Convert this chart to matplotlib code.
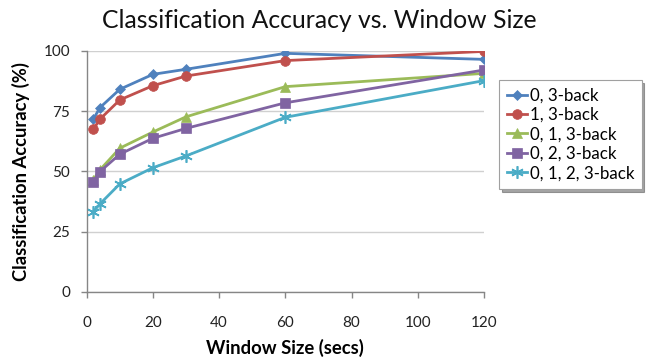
import numpy as np
import matplotlib
matplotlib.use("Agg")
import matplotlib.pyplot as plt

# -----------------------------------------------------------
# DATA
# -----------------------------------------------------------
window_secs = [2, 4, 10, 20, 30, 60, 120]

acc_0 = [71.6, 76.4, 84.0, 90.2, 92.3, 98.9, 96.4]
acc_1 = [67.4, 71.6, 79.6, 85.5, 89.5, 95.9, 99.7]
acc_01 = [46.5, 50.6, 59.6, 66.3, 72.6, 85.1, 90.6]
acc_02 = [45.6, 49.9, 57.1, 63.7, 67.8, 78.4, 92.0]
acc_012 = [33.3, 36.5, 44.8, 51.5, 56.4, 72.4, 87.6]

series_labels = ["0, 3-back", "1, 3-back", "0, 1, 3-back", "0, 2, 3-back", "0, 1, 2, 3-back"]
x_ticks = [0, 20, 40, 60, 80, 100, 120]
y_ticks = [0, 25, 50, 75, 100]

# -----------------------------------------------------------
# STYLE
# -----------------------------------------------------------
plt.rcParams['font.family'] = ['Lato', 'DejaVu Sans']
colors = ["#4F81BD", "#C0504D", "#9BBB59", "#8064A2", "#4BACC6"]
markers = ["D", "o", "^", "s", (6, 2, 0)]
msizes = [5.5, 7, 6.5, 7, 9]

fig = plt.figure(figsize=(6.46, 3.6), dpi=100)
ax = fig.add_axes([0.1342, 0.1889, 0.6150, 0.6703])

all_series = [acc_0, acc_1, acc_01, acc_02, acc_012]
for vals, lab, c, m, ms in zip(all_series, series_labels, colors, markers, msizes):
    ax.plot(window_secs, vals, color=c, marker=m, markersize=ms, linewidth=2,
            markeredgewidth=1.2 if m == (6, 2, 0) else 0.5, markeredgecolor=c,
            label=lab, zorder=3)

ax.set_xlim(0, 120)
ax.set_ylim(0, 100)
ax.set_xticks(x_ticks)
ax.set_yticks(y_ticks)
ax.tick_params(axis='both', labelsize=11, colors="#222222", length=4, width=1)
ax.tick_params(axis='both', color="#868686")
ax.tick_params(axis='x', pad=13)
ax.tick_params(axis='y', pad=8)
ax.grid(axis='y', color="#d0d0d0", linewidth=1)
ax.set_axisbelow(True)
for side in ["top", "right"]:
    ax.spines[side].set_visible(False)
for side in ["left", "bottom"]:
    ax.spines[side].set_color("#868686")
    ax.spines[side].set_linewidth(1)

ax.set_xlabel("Window Size (secs)", fontsize=13.3, fontweight="bold", labelpad=7)
ax.set_ylabel("Classification Accuracy (%)", fontsize=13.2, fontweight="bold", labelpad=10)

fig.text(0.495, 0.944, "Classification Accuracy vs. Window Size", fontsize=17.8,
         ha="center", va="center", color="#111111")

# legend box on the right, Excel style with a drop shadow
leg = ax.legend(loc="upper left", bbox_to_anchor=(499 / 646, 1 - 80 / 360),
                bbox_transform=fig.transFigure, fontsize=12.2, frameon=True,
                fancybox=False, shadow=True, edgecolor="#a0a0a0",
                handlelength=1.2, handletextpad=0.15, borderpad=0.45,
                labelspacing=0.2, borderaxespad=0)
leg.get_frame().set_linewidth(0.8)

fig.savefig("out.png", dpi=100)
